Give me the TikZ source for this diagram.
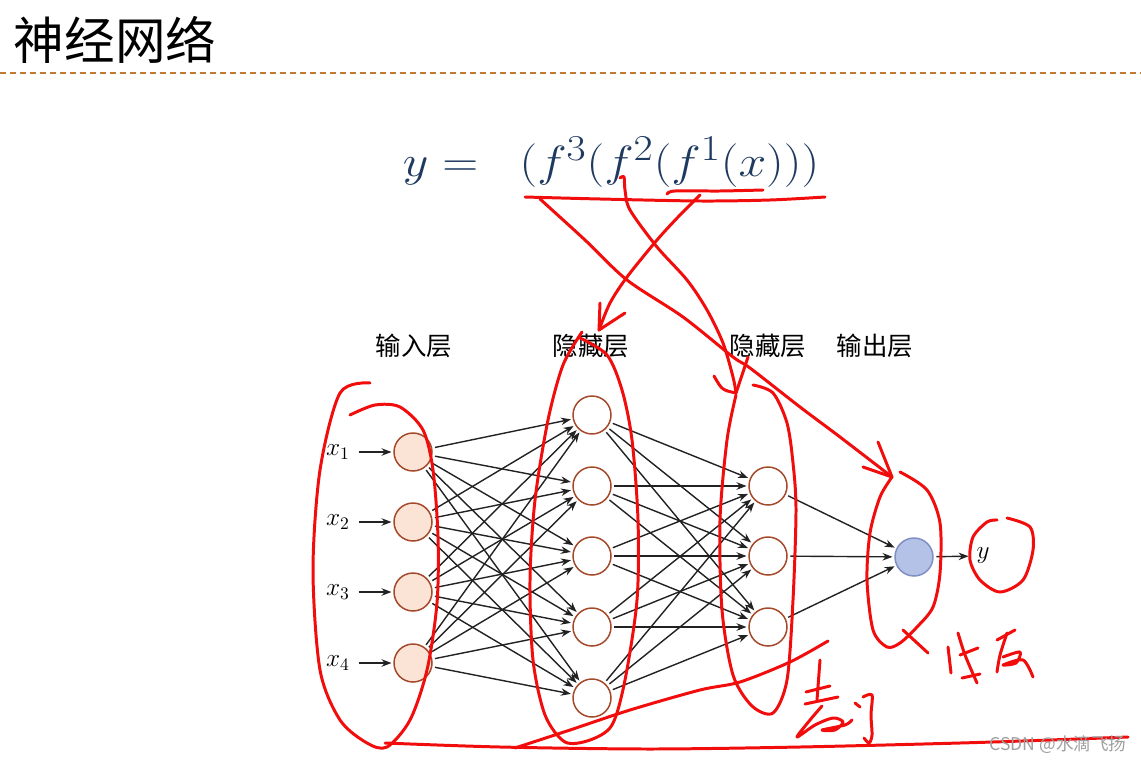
\documentclass[tikz,border=0pt]{standalone}
\usepackage{graphicx}
\usepackage{fontspec}
\setmainfont{Liberation Sans}
\newfontfamily\cjk{Noto Sans CJK SC}
\usetikzlibrary{arrows.meta}
\definecolor{nodeline}{HTML}{A5492B}
\definecolor{inputfill}{HTML}{FBE3D6}
\definecolor{outfill}{HTML}{B4C2E8}
\definecolor{outline}{HTML}{7F8FC4}
\definecolor{formula}{HTML}{1F3A60}
\definecolor{ink}{HTML}{F20D0D}
\definecolor{rulecol}{HTML}{C07A35}
\definecolor{wire}{HTML}{222222}
\tikzset{
  neuron/.style={circle, draw=nodeline, line width=0.85pt, minimum size=0.76cm, inner sep=0pt},
  inneuron/.style={neuron, fill=inputfill},
  outneuron/.style={neuron, draw=outline, fill=outfill},
  link/.style={->, draw=wire, line width=0.8pt, shorten <=1.5pt, shorten >=1pt},
  layerlabel/.style={font=\cjk\fontsize{14.5}{16}\selectfont},
  mathlabel/.style={font=\fontsize{14.8}{16}\selectfont},
  redink/.style={draw=ink, line width=1.7pt, line cap=round, line join=round},
}
\begin{document}
\begin{tikzpicture}[x=0.02cm, y=-0.02cm, >={Stealth[length=2mm,width=1.5mm]}]
\useasboundingbox (0,0) rectangle (1141,763);
% title and rule
\node (title) at (115,40) {\cjk\fontsize{28.8}{32}\selectfont 神经网络};
\draw[rulecol, dash pattern=on 0.12cm off 0.08cm, line width=0.6pt] (0,73) -- (1141,73);
% formula
\node[text=formula, font=\fontsize{29}{32}\selectfont] (formula) at (611,162) {\scalebox{1.14}[1]{$y =\;\; (f^3(f^2(f^1(x)))$}};
% layer titles
\node[layerlabel] (tin) at (414,346) {输入层};
\node[layerlabel] (thid1) at (591,346) {隐藏层};
\node[layerlabel] (thid2) at (768,346) {隐藏层};
\node[layerlabel] (tout) at (875,346) {输出层};
% neurons
\foreach \i/\y in {1/452,2/522,3/592,4/663} {
  \node[inneuron] (i\i) at (413,\y) {};
  \node[mathlabel] (x\i) at (338,\y) {$x_{\i}$};
  \draw[link] (x\i) -- (i\i);
}
\foreach \j/\y in {1/415,2/486,3/556,4/627,5/698}
  \node[neuron] (h\j) at (592,\y) {};
\foreach \k/\y in {1/486,2/556,3/627}
  \node[neuron] (g\k) at (768,\y) {};
\node[outneuron] (o) at (914,557) {};
\node[mathlabel] (y) at (983,556) {$y$};
% connections
\foreach \i in {1,...,4}
  \foreach \j in {1,...,5}
    \draw[link] (i\i) -- (h\j);
\foreach \j in {1,...,5}
  \foreach \k in {1,2,3}
    \draw[link] (h\j) -- (g\k);
\foreach \k in {1,2,3}
  \draw[link] (g\k) -- (o);
\draw[link] (o) -- (y);
% red notes
\draw[redink] plot[smooth] coordinates {(525,197) (600,199) (700,201) (770,200) (825,197)};
\draw[redink] plot[smooth] coordinates {(667,194) (675,191) (720,191) (763,190)};
\draw[redink] plot[smooth] coordinates {(540,199) (585,240) (627,280) (683,317) (733,357) (750,368) (800,407) (840,437) (892,477)};
\draw[redink] (863,467) -- (892,477) -- (878,442);
\draw[redink] plot[smooth] coordinates {(620,178) (624,177) (625,190) (630,210) (657,247) (687,280) (707,310) (723,343) (733,377) (736,393)};
\draw[redink] (714,376) .. controls (722,390) .. (736,393) -- (748,357);
\draw[redink] plot[smooth] coordinates {(700,195) (680,215) (657,240) (627,277) (610,303) (599,330)};
\draw[redink] (600,303) -- (599,330) -- (625,313);
\draw[redink] plot[smooth] coordinates {(370,383) (340,393) (320,470) (313,570) (320,670) (340,720) (367,743) (387,747) (410,720) (427,670) (437,603) (438,537) (433,470) (423,430) (400,407) (375,405) (350,415)};
\draw[redink] plot[smooth] coordinates {(582,332) (563,365) (548,420) (535,500) (530,580) (533,660) (545,715) (565,742) (590,740) (612,725) (625,680) (637,600) (638,520) (632,440) (622,390) (607,355) (580,338)};
\draw[redink] plot[smooth] coordinates {(736,395) (727,440) (720,520) (722,610) (733,675) (752,706) (773,713) (787,680) (793,600) (796,510) (793,463) (787,423) (773,393) (753,385)};
\draw[redink] plot[smooth] coordinates {(900,472) (927,490) (940,523) (940,573) (933,607) (917,627) (900,643) (887,647) (873,630) (867,580) (870,533) (880,497) (892,477)};
\draw[redink] (903,630) -- (928,653);
\draw[redink] plot[smooth] coordinates {(1007,518) (1030,527) (1033,550) (1023,580) (1000,592) (980,580) (970,560) (973,537) (987,522) (997,520)};
\draw[redink] plot[smooth] coordinates {(385,743) (500,747) (650,749) (800,747) (960,743) (1050,740) (1128,737)};
\draw[redink] plot[smooth] coordinates {(515,748) (570,730) (630,710) (700,690) (740,682) (790,662) (828,641)};
% handwriting
\draw[redink] (820,660) -- (817,700);
\draw[redink] (806,692) -- (830,686);
\draw[redink] (805,704) -- (838,697);
\draw[redink] plot[smooth] coordinates {(822,706) (810,720) (797,737) (815,725) (833,718) (843,722) (835,730) (822,730) (845,725) (852,720)};
\draw[redink] (855,703) -- (860,707);
\draw[redink] plot[smooth] coordinates {(863,697) (872,695) (871,715) (872,735) (869,743) (864,738)};
\draw[redink] (948,647) -- (951,673);
\draw[redink] plot[smooth] coordinates {(958,633) (965,655) (977,683)};
\draw[redink] (960,655) -- (978,648);
\draw[redink] (962,678) -- (980,674);
\draw[redink] (997,640) -- (1015,630);
\draw[redink] plot[smooth] coordinates {(1007,633) (1000,655) (997,672)};
\draw[redink] plot[smooth] coordinates {(1003,657) (1020,652) (1016,663) (1003,665) (1023,660) (1033,677)};
% watermark
\node[text=gray!75] (mark) at (1058,745) {\cjk\fontsize{10}{12}\selectfont CSDN @水滴飞扬};
\end{tikzpicture}
\end{document}
